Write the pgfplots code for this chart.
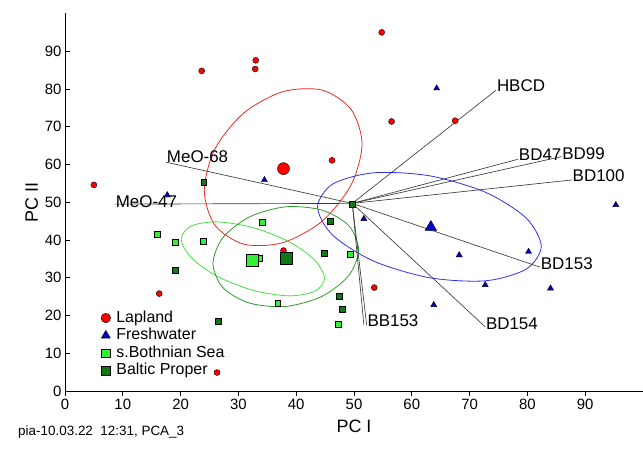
\documentclass[border=0pt]{standalone}
\usepackage{fontspec}
\setmainfont{Liberation Sans}
\usepackage{pgfplots}
\pgfplotsset{compat=1.18}
\definecolor{lapred}{HTML}{FF0000}
\definecolor{fwblue}{HTML}{0000CC}
\definecolor{bothgreen}{HTML}{33F033}
\definecolor{baltgreen}{HTML}{127A12}
\definecolor{elred}{HTML}{F02828}
\definecolor{elblue}{HTML}{3030F0}
\definecolor{elboth}{HTML}{44E044}
\definecolor{elbalt}{HTML}{2E9A2E}
\definecolor{loadcol}{HTML}{3A3A3A}
\tikzset{loadlabel/.style={pos=1, anchor=west, inner sep=0.5bp, black,
    font=\fontsize{17}{19}\selectfont}}

\begin{document}
\begin{tikzpicture}
\useasboundingbox (0bp,0bp) rectangle (643bp,450bp);
\begin{axis}[
  at={(65bp,59bp)}, anchor=south west,
  scale only axis, width=578bp, height=377.5bp,
  xmin=0, xmax=100, ymin=0, ymax=100,
  axis lines*=left,
  axis line style={-, line width=0.9pt},
  xtick={0,10,...,90}, ytick={0,10,...,90},
  xtick align=outside, ytick align=inside,
  major tick length=5bp,
  tick style={black, line width=0.7pt},
  ticklabel style={font=\fontsize{15}{17}\selectfont},
  /pgf/number format/assume math mode=true,
  xlabel={PC I}, ylabel={PC II},
  xlabel style={yshift=-3bp},
  label style={font=\fontsize{18}{20}\selectfont},
  clip=false,
  legend style={at={(0.062,0.217)}, anchor=north west, draw=none, fill=none,
    inner sep=0pt, font=\fontsize{16}{17}\selectfont, column sep=4.5bp,
    nodes={inner sep=1.25bp, text height=11.5bp, text depth=3.5bp}},
  legend cell align=left,
  legend image code/.code={\draw[#1] plot coordinates {(0bp,0bp)};},
  loadline/.style={loadcol, line width=0.65bp, forget plot},
  ell/.style={smooth cycle, line width=0.8bp, forget plot},
]
% legend images
\addlegendimage{only marks, mark=*, mark size=4.8bp, draw=black, fill=lapred, line width=0.4pt}
\addlegendentry{Lapland}
\addlegendimage{only marks, mark=triangle*, mark size=5.2bp, draw=black, fill=fwblue, line width=0.4pt}
\addlegendentry{Freshwater}
\addlegendimage{only marks, mark=square*, mark size=4.2bp, draw=black, fill=bothgreen, line width=0.4pt}
\addlegendentry{s.Bothnian Sea}
\addlegendimage{only marks, mark=square*, mark size=4.2bp, draw=black, fill=baltgreen, line width=0.4pt}
\addlegendentry{Baltic Proper}

% group ellipses
\addplot[ell, elred] coordinates {
  (51.4,65.4) (49.5,74.6) (44.5,79.7) (37.7,79.3) (30.9,73.6) (25.9,64.0)
  (24.1,53.2) (25.9,44.0) (30.9,38.9) (37.7,39.3) (44.5,45.0) (49.5,54.6)};
\addplot[ell, elblue] coordinates {
  (82.4,38.3) (79.8,45.8) (72.8,52.6) (63.1,57.0) (53.4,57.8) (46.3,54.8)
  (43.7,48.7) (46.3,41.3) (53.4,34.4) (63.1,30.0) (72.8,29.2) (79.8,32.3)};
\addplot[ell, elboth] coordinates {
  (44.9,29.8) (43.2,34.7) (38.7,39.6) (32.5,43.3) (26.3,44.8) (21.8,43.7)
  (20.1,40.2) (21.8,35.4) (26.3,30.4) (32.5,26.7) (38.7,25.2) (43.2,26.4)};
\addplot[ell, elbalt] coordinates {
  (50.8,37.4) (49.1,43.8) (44.5,47.9) (38.2,48.8) (31.9,46.1) (27.3,40.6)
  (25.6,33.8) (27.3,27.4) (31.9,23.3) (38.2,22.4) (44.5,25.1) (49.1,30.6)};

% loadings
\addplot[loadline] coordinates {(49.7,49.7) (74.6,79.7)} node[loadlabel, yshift=4bp] {HBCD};
\addplot[loadline] coordinates {(49.7,49.7) (78.4,61.4)} node[loadlabel, yshift=4.5bp] {BD47};
\addplot[loadline] coordinates {(49.7,49.7) (85.9,62.1)} node[loadlabel, yshift=2.5bp] {BD99};
\addplot[loadline] coordinates {(49.7,49.7) (87.7,55.9)} node[loadlabel, yshift=4bp] {BD100};
\addplot[loadline] coordinates {(49.7,49.7) (82.2,32.8)} node[loadlabel, yshift=4bp] {BD153};
\addplot[loadline] coordinates {(49.7,49.7) (72.7,17.0)} node[loadlabel, yshift=3bp] {BD154};
\addplot[loadline] coordinates {(49.7,49.7) (52.2,17.4)} node[loadlabel, yshift=5bp] {BB153};
\addplot[loadline] coordinates {(49.7,49.7) (51.7,17.6)};
\addplot[loadline] coordinates {(49.7,49.7) (17.5,60.6)} node[loadlabel, yshift=5.5bp] {MeO-68};
\addplot[loadline] coordinates {(49.7,49.7) (8.65,49.5)} node[loadlabel, yshift=2bp] {MeO-47};

% Lapland
\addplot[only marks, mark=*, mark size=3bp, draw=black, fill=lapred, line width=0.4pt, forget plot]
  coordinates {(5.0,54.6) (23.65,84.8) (33.0,87.6) (32.9,85.3) (54.8,95.0) (56.5,71.4)
  (46.2,61.1) (67.5,71.6) (16.3,25.8) (26.3,4.9) (53.5,27.4) (37.8,37.2)};
\addplot[only marks, mark=*, mark size=6bp, draw=black, fill=lapred, line width=0.4pt, forget plot]
  coordinates {(37.8,58.9)};
% Freshwater
\addplot[only marks, mark=triangle*, mark size=3.5bp, draw=black, fill=fwblue, line width=0.4pt, forget plot]
  coordinates {(17.7,51.9) (34.5,55.9) (64.3,80.2) (51.7,45.6) (63.8,22.8) (95.3,49.3)
  (68.2,36.0) (80.2,36.9) (72.7,28.1) (84.0,27.2)};
\addplot[only marks, mark=triangle*, mark size=6.7bp, draw=black, fill=fwblue, line width=0.4pt, forget plot]
  coordinates {(63.3,43.4)};
% s.Bothnian Sea
\addplot[only marks, mark=square*, mark size=2.9bp, draw=black, fill=bothgreen, line width=0.4pt, forget plot]
  coordinates {(15.9,41.6) (19.0,39.5) (23.9,39.7) (33.7,35.2) (34.1,44.7) (49.4,36.2)
  (36.8,23.2) (47.3,17.7)};
\addplot[only marks, mark=square*, mark size=6bp, draw=black, fill=bothgreen, line width=0.4pt, forget plot]
  coordinates {(32.4,34.7)};
% Baltic Proper
\addplot[only marks, mark=square*, mark size=2.9bp, draw=black, fill=baltgreen, line width=0.4pt, forget plot]
  coordinates {(24.0,55.3) (19.0,31.9) (26.5,18.5) (49.7,49.5) (45.9,45.0) (44.9,36.6)
  (47.5,25.2) (47.9,21.6)};
\addplot[only marks, mark=square*, mark size=6bp, draw=black, fill=baltgreen, line width=0.4pt, forget plot]
  coordinates {(38.2,35.3)};
\end{axis}
\node[anchor=west, inner sep=0pt, font=\fontsize{13.5}{15}\selectfont] at (18bp,18bp) {pia-10.03.22\ \ 12:31, PCA\_3};
\end{tikzpicture}
\end{document}
